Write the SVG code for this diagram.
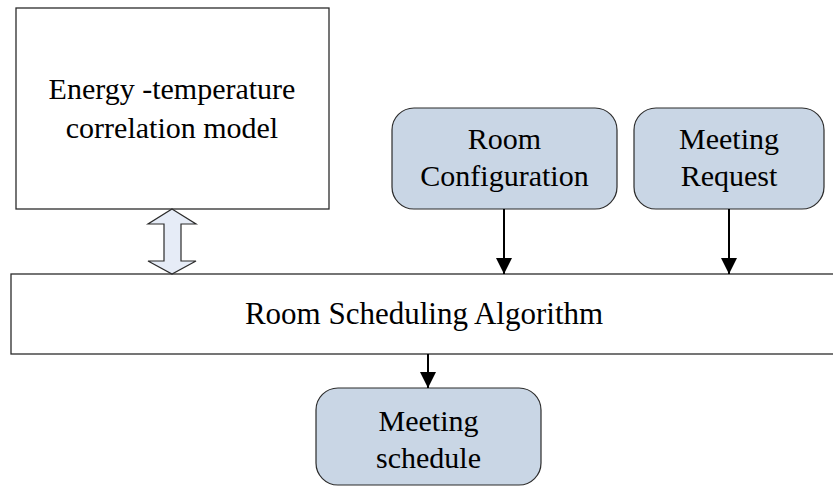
<svg xmlns="http://www.w3.org/2000/svg" width="833" height="487" viewBox="0 0 833 487">
<defs>
<style>
.box{fill:#ffffff;stroke:#2b2b2b;stroke-width:1.3}
.rbox{fill:#c9d6e5;stroke:#2b2b2b;stroke-width:1.2}
.t{font-family:"Liberation Serif","Times New Roman",serif;font-size:30px;fill:#000;text-anchor:middle}
.big{font-size:31px}
.conn{stroke:#000;stroke-width:2;fill:none}
.dbl{fill:#e6ecf7;stroke:#2b2b2b;stroke-width:1.2;stroke-linejoin:miter}
</style>
<marker id="ah" markerWidth="16" markerHeight="17" refX="16" refY="8" orient="auto" markerUnits="userSpaceOnUse" viewBox="0 0 16 16">
<path d="M0,0 L16,8 L0,16 Z" fill="#000"/>
</marker>
</defs>
<rect width="833" height="487" fill="#ffffff"/>
<g id="energy-model">
<rect class="box" x="16" y="8" width="313" height="201"/>
<text class="t" x="172" y="99">Energy -temperature</text>
<text class="t" x="172" y="138">correlation model</text>
</g>
<g id="room-configuration">
<rect class="rbox" x="392" y="108" width="225" height="101" rx="22" ry="22"/>
<text class="t" x="504.5" y="149">Room</text>
<text class="t" x="504.5" y="186">Configuration</text>
</g>
<g id="meeting-request">
<rect class="rbox" x="634" y="108" width="190" height="101" rx="22" ry="22"/>
<text class="t" x="729" y="149">Meeting</text>
<text class="t" x="729" y="186">Request</text>
</g>
<g id="room-scheduling-algorithm">
<rect class="box" x="11" y="274" width="840" height="80"/>
<text class="t big" x="424" y="324">Room Scheduling Algorithm</text>
</g>
<g id="meeting-schedule">
<rect class="rbox" x="316" y="388" width="225" height="97" rx="22" ry="22"/>
<text class="t" x="428.5" y="431">Meeting</text>
<text class="t" x="428.5" y="468">schedule</text>
</g>
<g id="connectors">
<path class="dbl" d="M172,209 L196,224 L181,224 L181,261 L196,261 L172,274 L148,261 L164,261 L164,224 L148,224 Z"/>
<line class="conn" x1="504" y1="209" x2="504" y2="274" marker-end="url(#ah)"/>
<line class="conn" x1="729" y1="209" x2="729" y2="274" marker-end="url(#ah)"/>
<line class="conn" x1="428" y1="354" x2="428" y2="388" marker-end="url(#ah)"/>
</g>
</svg>
